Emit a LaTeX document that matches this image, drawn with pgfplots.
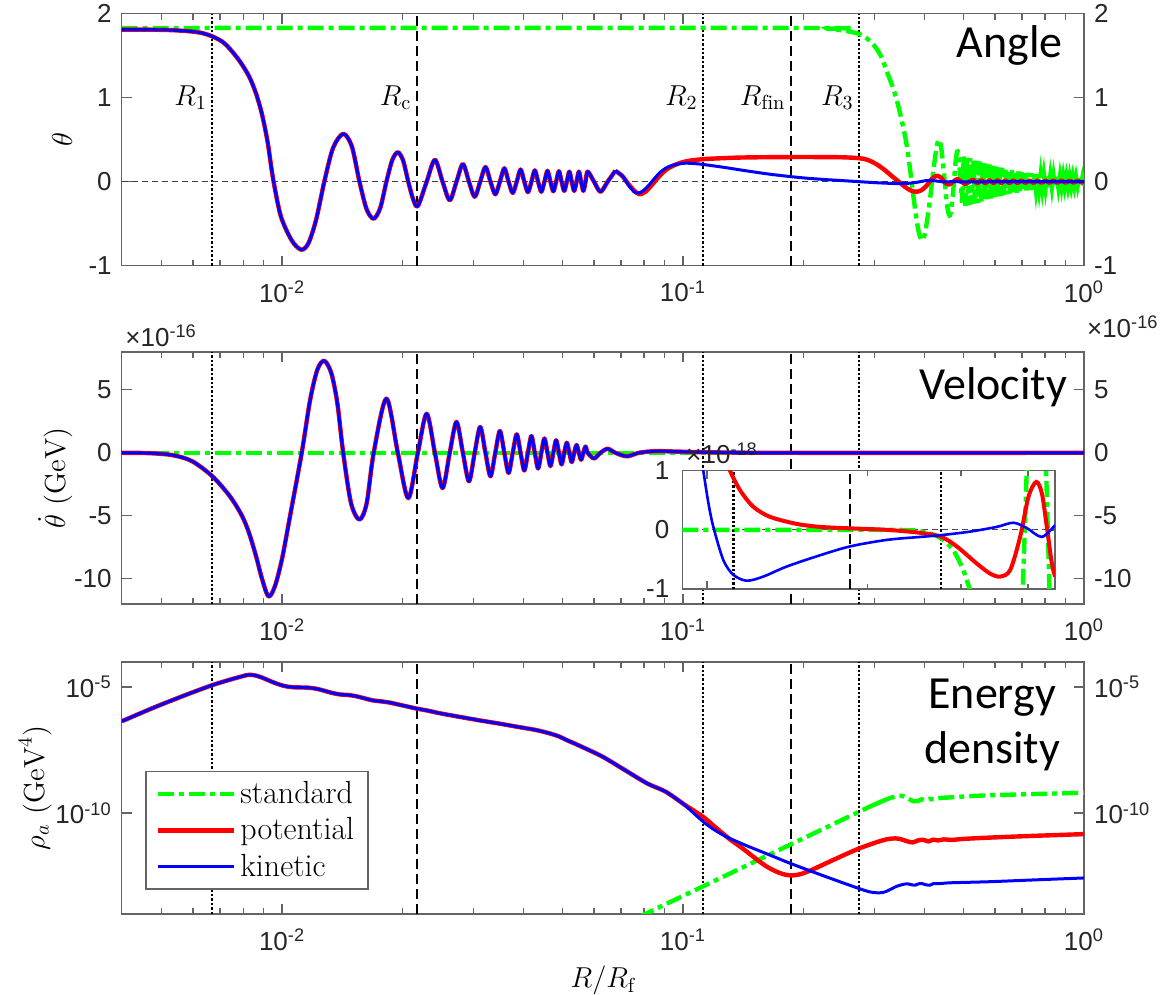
\documentclass[border=0pt]{standalone}
\usepackage{fontspec}
\usepackage{pgfplots}
\usepackage{pgfplotstable}
\pgfplotsset{compat=1.18}
\newfontfamily\ticksf{Liberation Sans}
\newfontfamily\calib{Carlito}
\definecolor{mgreen}{RGB}{0,255,0}
\definecolor{axgray}{RGB}{100,100,100}
\definecolor{txgray}{RGB}{38,38,38}

\tikzset{
  grn/.style={mgreen, line width=2.2pt, dash pattern=on 8pt off 2.5pt on 2.5pt off 2.5pt},
  rd/.style={red, line width=2.2pt, line join=round},
  bl/.style={blue, line width=1.5pt, line join=round},
  vdot/.style={black, line width=1.3pt, dash pattern=on 1.2pt off 1pt},
  vdash/.style={black, line width=1.1pt, dash pattern=on 5pt off 2.5pt},
}
\pgfplotsset{
  panel/.style={
    scale only axis, width=481.15pt, height=126pt, anchor=south west,
    xmin=-2.4, xmax=0,
    axis line style={axgray, line width=0.7pt},
    tick style={axgray, line width=0.7pt},
    tick align=inside, major tick length=5pt, minor tick length=3pt,
    xtick={-2,-1,0},
    xticklabels={10\textsuperscript{-2},10\textsuperscript{-1},10\textsuperscript{0}},
    minor xtick={-2.3010,-2.2218,-2.1549,-2.0969,-2.0458,-1.6990,-1.5229,-1.3979,-1.3010,-1.2218,-1.1549,-1.0969,-1.0458,-0.6990,-0.5229,-0.3979,-0.3010,-0.2218,-0.1549,-0.0969,-0.0458},
    tick label style={font=\ticksf\fontsize{13}{15}\selectfont, text=txgray},
    xticklabel style={yshift=-4pt},
    label style={font=\fontsize{14.5}{17}\selectfont},
  },
  rlabels/.style={panel, xtick=\empty, minor xtick={}, axis line style={draw=none},
    major tick length=0pt, minor tick length=0pt, yticklabel pos=right,
    yticklabel style={xshift=1.5pt}},
}
\newcommand{\vlines}[2]{%
  \addplot[vdot, forget plot] coordinates {(-2.1744,#1) (-2.1744,#2)};
  \addplot[vdash, forget plot] coordinates {(-1.664,#1) (-1.664,#2)};
  \addplot[vdot, forget plot] coordinates {(-0.950,#1) (-0.950,#2)};
  \addplot[vdash, forget plot] coordinates {(-0.731,#1) (-0.731,#2)};
  \addplot[vdot, forget plot] coordinates {(-0.561,#1) (-0.561,#2)};
}

% x is log10(R/R_f)
\pgfplotstableread[row sep=\\]{u th\\
-2.400 1.81\\ -2.340 1.81\\ -2.280 1.805\\ -2.230 1.79\\ -2.200 1.77\\ -2.1744 1.73\\
-2.150 1.67\\ -2.130 1.58\\ -2.105 1.43\\ -2.082 1.25\\ -2.065 1.05\\ -2.050 0.80\\
-2.036 0.47\\ -2.023 0.05\\ -2.005 -0.38\\ -1.987 -0.60\\ -1.970 -0.74\\ -1.951 -0.81\\
-1.934 -0.73\\ -1.915 -0.45\\ -1.8947 0.0\\ -1.873 0.40\\ -1.8476 0.57\\ -1.826 0.42\\
-1.807 0.0\\ -1.789 -0.33\\ -1.7715 -0.44\\ -1.755 -0.31\\ -1.7398 0.0\\ -1.725 0.26\\
-1.7113 0.35\\ -1.698 0.25\\ -1.6853 0.0\\ -1.673 -0.21\\ -1.6614 -0.29\\ -1.6394 0.0\\
-1.6189 0.26\\ -1.5998 0.0\\ -1.5819 -0.22\\ -1.5650 0.0\\ -1.5491 0.21\\ -1.5339 0.0\\
-1.5196 -0.18\\ -1.5059 0.0\\ -1.4928 0.175\\ -1.4803 0.0\\ -1.4683 -0.15\\ -1.4568 0.0\\
-1.4457 0.16\\ -1.4351 0.0\\ -1.4248 -0.135\\ -1.4148 0.0\\ -1.4052 0.145\\ -1.3959 0.0\\
-1.3869 -0.125\\ -1.3782 0.0\\ -1.3697 0.135\\ -1.3615 0.0\\ -1.3535 -0.12\\ -1.3457 0.0\\
-1.3381 0.13\\ -1.3307 0.0\\ -1.3235 -0.115\\ -1.3165 0.0\\ -1.3096 0.125\\ -1.3029 0.0\\
-1.2963 -0.11\\ -1.2899 0.0\\ -1.2836 0.12\\ -1.2775 0.0\\ -1.2715 -0.11\\ -1.2656 0.0\\
-1.2598 0.12\\ -1.2542 0.0\\ -1.2486 -0.11\\ -1.2432 0.0\\ -1.2378 0.12\\ -1.222 0.0\\
-1.206 -0.12\\ -1.188 0.0\\ -1.169 0.13\\
}\thcommon

\pgfplotstableread[row sep=\\]{u th\\
-1.169 0.13\\ -1.152 0.07\\ -1.136 -0.03\\ -1.121 -0.11\\ -1.108 -0.15\\ -1.094 -0.12\\
-1.078 -0.04\\ -1.060 0.06\\ -1.040 0.15\\ -1.015 0.21\\ -0.990 0.245\\ -0.950 0.268\\
-0.900 0.28\\ -0.850 0.288\\ -0.750 0.293\\ -0.650 0.293\\ -0.600 0.29\\ -0.561 0.28\\
-0.540 0.26\\ -0.520 0.215\\ -0.500 0.15\\ -0.480 0.07\\ -0.462 0.0\\ -0.447 -0.06\\
-0.432 -0.105\\ -0.418 -0.12\\ -0.405 -0.10\\ -0.393 -0.05\\ -0.380 0.03\\ -0.368 0.07\\
-0.357 0.05\\ -0.347 -0.01\\ -0.337 -0.035\\ -0.326 0.0\\ -0.316 0.03\\ -0.306 0.0\\
-0.296 -0.025\\ -0.286 0.0\\ -0.276 0.022\\ -0.266 -0.02\\ -0.256 0.02\\ -0.246 -0.019\\
-0.236 0.018\\ -0.226 -0.018\\ -0.216 0.017\\ -0.206 -0.017\\ -0.196 0.016\\ -0.186 -0.016\\
-0.176 0.015\\ -0.166 -0.015\\ -0.156 0.015\\ -0.146 -0.014\\ -0.136 0.014\\ -0.126 -0.014\\
-0.116 0.013\\ -0.106 -0.013\\ -0.096 0.013\\ -0.086 -0.012\\ -0.076 0.012\\ -0.066 -0.012\\
-0.056 0.012\\ -0.046 -0.011\\ -0.036 0.011\\ -0.026 -0.011\\ -0.016 0.01\\ -0.006 -0.01\\
0.000 0.0\\
}\thred

\pgfplotstableread[row sep=\\]{u th\\
-1.169 0.13\\ -1.150 0.06\\ -1.135 -0.05\\ -1.122 -0.12\\ -1.112 -0.135\\ -1.100 -0.11\\
-1.085 -0.04\\ -1.071 0.04\\ -1.055 0.12\\ -1.038 0.175\\ -1.018 0.205\\ -0.995 0.22\\
-0.970 0.215\\ -0.950 0.205\\ -0.900 0.172\\ -0.850 0.135\\ -0.793 0.095\\ -0.750 0.07\\
-0.700 0.045\\ -0.650 0.027\\ -0.600 0.012\\ -0.560 0.0\\ -0.515 -0.013\\ -0.470 -0.022\\
-0.440 -0.02\\ -0.415 -0.006\\ -0.395 0.012\\ -0.378 0.014\\ -0.362 0.004\\ -0.345 -0.004\\
-0.325 0.003\\ -0.300 -0.002\\ -0.200 0.0\\ 0.000 0.0\\
}\thblue

\pgfplotstableread[row sep=\\]{u th\\
-2.400 1.83\\ -0.700 1.83\\ -0.640 1.82\\ -0.600 1.80\\ -0.561 1.76\\ -0.540 1.70\\
-0.520 1.60\\ -0.505 1.48\\ -0.490 1.29\\ -0.475 1.10\\ -0.462 0.88\\ -0.450 0.63\\
-0.441 0.40\\ -0.432 0.08\\ -0.422 -0.30\\ -0.413 -0.58\\ -0.404 -0.70\\ -0.396 -0.60\\
-0.386 -0.28\\ -0.376 0.12\\ -0.368 0.40\\ -0.362 0.50\\ -0.356 0.40\\ -0.349 0.08\\
-0.341 -0.30\\ -0.334 -0.40\\ -0.327 -0.15\\ -0.320 0.25\\ -0.315 0.36\\ -0.310 0.15\\
-0.304 -0.25\\
}\thgreenA

\pgfplotstableread[row sep=\\]{u th\\
-0.304 -0.25\\ -0.300 0.30\\ -0.296 -0.29\\ -0.292 0.29\\ -0.288 -0.28\\ -0.284 0.28\\
-0.280 -0.27\\ -0.276 0.26\\ -0.272 -0.26\\ -0.268 0.25\\ -0.264 -0.25\\ -0.260 0.24\\
-0.256 -0.235\\ -0.252 0.225\\ -0.248 -0.22\\ -0.244 0.215\\ -0.240 -0.21\\ -0.236 0.205\\
-0.232 -0.20\\ -0.228 0.19\\ -0.224 -0.185\\ -0.220 0.18\\ -0.216 -0.175\\ -0.212 0.17\\
-0.208 -0.17\\ -0.204 0.165\\ -0.200 -0.16\\ -0.196 0.155\\ -0.192 -0.15\\ -0.188 0.145\\
-0.184 -0.14\\ -0.180 0.14\\ -0.176 -0.135\\ -0.172 0.13\\ -0.168 -0.13\\ -0.164 0.125\\
-0.160 -0.12\\ -0.156 0.115\\ -0.152 -0.115\\ -0.148 0.11\\ -0.144 -0.105\\ -0.140 0.105\\
-0.136 -0.10\\ -0.132 0.10\\ -0.128 -0.095\\ -0.124 0.095\\ -0.120 -0.09\\ -0.116 0.09\\
-0.112 -0.087\\ -0.108 0.085\\ -0.104 -0.083\\ -0.100 0.08\\ -0.096 -0.079\\ -0.092 0.078\\
-0.088 -0.076\\ -0.084 0.075\\ -0.080 -0.074\\ -0.076 0.072\\ -0.072 -0.071\\ -0.068 0.07\\
-0.064 -0.069\\ -0.060 0.067\\ -0.056 -0.066\\ -0.052 0.065\\ -0.048 -0.063\\ -0.044 0.062\\
-0.040 -0.061\\ -0.036 0.06\\ -0.032 -0.058\\ -0.028 0.057\\ -0.024 -0.056\\ -0.020 0.055\\
-0.016 -0.053\\ -0.012 0.052\\ -0.008 -0.051\\ -0.004 0.05\\ 0.000 -0.048\\
}\thgreenB

% velocity, units of 1e-16 GeV
\pgfplotstableread[row sep=\\]{u v\\
-2.400 0\\ -2.330 -0.03\\ -2.273 -0.19\\ -2.225 -0.66\\ -2.174 -1.86\\ -2.130 -3.46\\
-2.100 -5.0\\ -2.082 -6.4\\ -2.065 -8.2\\ -2.050 -10.0\\ -2.034 -11.4\\ -2.018 -10.6\\
-2.000 -8.4\\ -1.980 -5.0\\ -1.951 0\\ -1.930 4.2\\ -1.912 6.6\\ -1.8947 7.3\\
-1.877 6.3\\ -1.862 3.9\\ -1.8476 0\\ -1.828 -4.0\\ -1.807 -5.3\\ -1.789 -4.0\\
-1.7715 0\\ -1.7398 4.3\\ -1.7113 0\\ -1.6853 -3.6\\ -1.6614 0\\ -1.6394 3.1\\
-1.6189 0\\ -1.5998 -2.8\\ -1.5819 0\\ -1.5650 2.45\\ -1.5491 0\\ -1.5339 -2.26\\
-1.5196 0\\ -1.5059 2.05\\ -1.4928 0\\ -1.4803 -1.86\\ -1.4683 0\\ -1.4568 1.73\\
-1.4457 0\\ -1.4351 -1.6\\ -1.4248 0\\ -1.4148 1.46\\ -1.4052 0\\ -1.3959 -1.4\\
-1.3869 0\\ -1.3782 1.33\\ -1.3697 0\\ -1.3615 -1.25\\ -1.3535 0\\ -1.3457 1.14\\
-1.3381 0\\ -1.3307 -1.06\\ -1.3235 0\\ -1.3165 1.0\\ -1.3096 0\\ -1.3029 -0.93\\
-1.2963 0\\ -1.2899 0.8\\ -1.2836 0\\ -1.2775 -0.74\\ -1.2715 0\\ -1.2656 0.62\\
-1.2598 0\\ -1.2542 -0.55\\ -1.2486 0\\ -1.2432 0.5\\ -1.2378 0\\ -1.222 -0.45\\
-1.206 0\\ -1.188 0.32\\ -1.169 0\\ -1.140 -0.28\\ -1.110 0\\ -1.070 0.13\\
-1.020 0.1\\ -0.960 0.05\\ -0.880 0.02\\ -0.750 0.0\\ 0.000 0.0\\
}\vel

% inset, units of 1e-18 GeV
\pgfplotstableread[row sep=\\]{u v\\
-1.046 0\\ -0.640 0\\ -0.610 -0.01\\ -0.590 -0.04\\ -0.575 -0.08\\ -0.561 -0.14\\
-0.549 -0.23\\ -0.5376 -0.34\\ -0.528 -0.50\\ -0.5188 -0.68\\ -0.5062 -1.02\\ -0.490 -1.6\\
-0.480 -3\\ -0.430 -3\\ -0.4074 -1.0\\ -0.4000 1.0\\ -0.390 3\\ -0.370 3\\
-0.3636 1.0\\ -0.3574 -1.0\\ -0.350 -3\\
}\insgreen
\pgfplotstableread[row sep=\\]{u v\\
-0.965 1.25\\ -0.9565 1.0\\ -0.9377 0.67\\ -0.9128 0.39\\ -0.8815 0.22\\ -0.8314 0.10\\
-0.7877 0.05\\ -0.7308 0.025\\ -0.6625 0.0\\ -0.600 -0.05\\ -0.5612 -0.115\\ -0.5312 -0.28\\
-0.4937 -0.57\\ -0.4686 -0.74\\ -0.4499 -0.79\\ -0.4311 -0.68\\ -0.4124 -0.12\\ -0.3967 0.56\\
-0.3822 0.81\\ -0.3717 0.62\\ -0.3623 0.05\\ -0.3529 -0.57\\ -0.3467 -0.79\\
}\insred
\pgfplotstableread[row sep=\\]{u v\\
-1.012 1.35\\ -1.0066 1.0\\ -0.997 0.45\\ -0.9878 0.05\\ -0.9691 -0.51\\ -0.9503 -0.76\\
-0.9252 -0.86\\ -0.894 -0.79\\ -0.8501 -0.62\\ -0.7877 -0.43\\ -0.7313 -0.28\\ -0.6625 -0.17\\
-0.600 -0.12\\ -0.5612 -0.09\\ -0.5062 -0.03\\ -0.4561 0.05\\ -0.425 0.12\\ -0.3998 0.03\\
-0.3717 -0.12\\ -0.3467 0.08\\
}\insblue

% energy density, log10 of GeV^4
\pgfplotstableread[row sep=\\]{u r\\
-2.3995 -6.35\\ -2.320 -5.81\\ -2.244 -5.33\\ -2.1744 -4.92\\ -2.1295 -4.70\\ -2.100 -4.57\\
-2.0837 -4.51\\ -2.068 -4.53\\ -2.0532 -4.60\\ -2.035 -4.72\\ -2.0151 -4.85\\ -1.995 -4.95\\
-1.975 -5.00\\ -1.955 -5.01\\ -1.935 -5.02\\ -1.915 -5.06\\ -1.895 -5.14\\ -1.875 -5.23\\
-1.855 -5.29\\ -1.835 -5.31\\ -1.815 -5.36\\ -1.795 -5.44\\ -1.775 -5.52\\ -1.755 -5.56\\
-1.735 -5.60\\ -1.715 -5.67\\ -1.695 -5.74\\ -1.664 -5.85\\ -1.640 -5.92\\ -1.605 -6.04\\
-1.560 -6.17\\ -1.510 -6.31\\ -1.460 -6.44\\ -1.414 -6.57\\ -1.370 -6.69\\ -1.338 -6.81\\
-1.310 -6.95\\ -1.290 -7.10\\ -1.256 -7.34\\ -1.2006 -7.76\\ -1.145 -8.29\\ -1.0894 -8.82\\
-1.043 -9.15\\ -0.9968 -9.66\\
}\rhocommon
\pgfplotstableread[row sep=\\]{u r\\
-0.9968 -9.66\\ -0.9495 -10.15\\ -0.920 -10.55\\ -0.886 -11.0\\ -0.860 -11.3\\ -0.839 -11.55\\
-0.815 -11.85\\ -0.793 -12.1\\ -0.770 -12.3\\ -0.750 -12.42\\ -0.731 -12.47\\ -0.710 -12.43\\
-0.691 -12.33\\ -0.665 -12.15\\ -0.645 -12.0\\ -0.608 -11.73\\ -0.561 -11.40\\ -0.515 -11.14\\
-0.490 -11.03\\ -0.470 -11.0\\ -0.455 -11.04\\ -0.440 -11.12\\ -0.427 -11.16\\ -0.412 -11.07\\
-0.400 -11.06\\ -0.388 -11.12\\ -0.376 -11.05\\ -0.364 -11.08\\ -0.350 -11.04\\ -0.330 -11.06\\
-0.300 -11.02\\ -0.237 -10.97\\ -0.144 -10.91\\ 0.000 -10.83\\
}\rhored
\pgfplotstableread[row sep=\\]{u r\\
-0.9968 -9.66\\ -0.9495 -10.34\\ -0.920 -10.68\\ -0.886 -10.98\\ -0.840 -11.3\\ -0.793 -11.6\\
-0.731 -12.0\\ -0.654 -12.46\\ -0.600 -12.77\\ -0.561 -12.99\\ -0.535 -13.12\\ -0.515 -13.16\\
-0.500 -13.14\\ -0.487 -13.06\\ -0.470 -12.92\\ -0.459 -12.86\\ -0.450 -12.82\\ -0.441 -12.80\\
-0.430 -12.84\\ -0.422 -12.86\\ -0.412 -12.80\\ -0.404 -12.79\\ -0.395 -12.84\\ -0.385 -12.86\\
-0.375 -12.79\\ -0.367 -12.80\\ -0.350 -12.78\\ -0.330 -12.76\\ -0.237 -12.72\\ -0.144 -12.66\\
0.000 -12.57\\
}\rhoblue
\pgfplotstableread[row sep=\\]{u r\\
-1.110 -14.12\\ -0.550 -9.86\\ -0.520 -9.65\\ -0.500 -9.50\\ -0.480 -9.38\\ -0.465 -9.32\\
-0.455 -9.31\\ -0.445 -9.36\\ -0.435 -9.45\\ -0.425 -9.53\\ -0.415 -9.52\\ -0.405 -9.45\\
-0.395 -9.48\\ -0.385 -9.43\\ -0.375 -9.46\\ -0.360 -9.40\\ -0.330 -9.37\\ -0.237 -9.29\\
0.000 -9.19\\
}\rhogreen

\begin{document}
\begin{tikzpicture}
\path[use as bounding box] (0,0) rectangle (581.5pt,497.5pt);

% ---------- angle ----------
\begin{axis}[panel, name=p1, at={(60.85pt,364.65pt)},
  ymin=-1, ymax=2, ytick={-1,0,1,2}, yticklabels={-1,0,1,2},
  yticklabel style={xshift=-1.5pt},
  ylabel={$\theta$}, ylabel style={at={(axis description cs:-0.062,0.5)}, anchor=center}]
\vlines{-1}{2}
\addplot[black!75, line width=0.6pt, dash pattern=on 3pt off 2pt] coordinates {(-2.4,0) (0,0)};
\addplot[grn, smooth] table {\thgreenA};
\addplot[grn] table {\thgreenB};
\addplot[rd, smooth] table {\thcommon};
\addplot[rd, smooth] table {\thred};
\addplot[bl, smooth] table {\thcommon};
\addplot[bl, smooth] table {\thblue};
\begin{scope}[every node/.style={font=\fontsize{14.5}{17}\selectfont, inner sep=0pt, anchor=base east, xshift=-2.5pt}]
\node at (axis cs:-2.1744,0.908) {$R_1$};
\node at (axis cs:-1.664,0.908) {$R_\mathrm{c}$};
\node at (axis cs:-0.950,0.908) {$R_2$};
\node at (axis cs:-0.731,0.908) {$R_\mathrm{fin}$};
\node at (axis cs:-0.561,0.908) {$R_3$};
\end{scope}
\node[font=\calib\fontsize{23}{27}\selectfont, anchor=base east, inner sep=0pt] at (axis cs:-0.052,1.483) {Angle};
\end{axis}
\begin{axis}[rlabels, at={(60.85pt,364.65pt)}, ymin=-1, ymax=2, ytick={-1,0,1,2}, yticklabels={-1,0,1,2}]
\end{axis}

% ---------- velocity ----------
\begin{axis}[panel, name=p2, at={(60.85pt,195.5pt)},
  ymin=-12, ymax=8, ytick={-10,-5,0,5}, yticklabels={-10,-5,0,5},
  yticklabel style={xshift=-1.5pt},
  ylabel={$\dot\theta\ (\mathrm{GeV})$}, ylabel style={at={(axis description cs:-0.069,0.5)}, anchor=center}]
\vlines{-12}{8}
\addplot[grn] coordinates {(-2.4,0) (0,0)};
\addplot[rd, smooth] table {\vel};
\addplot[bl, smooth] table {\vel};
\node[font=\calib\fontsize{23}{27}\selectfont, anchor=base east, inner sep=0pt] at (axis cs:-0.041,4.25) {Velocity};
\end{axis}
\begin{axis}[rlabels, at={(60.85pt,195.5pt)}, ymin=-12, ymax=8, ytick={-10,-5,0,5}, yticklabels={-10,-5,0,5}]
\end{axis}

% ---------- inset ----------
\begin{axis}[name=ins, scale only axis, width=186.35pt, height=59.15pt, anchor=south west, at={(341.15pt,203pt)},
  xmin=-1.046, xmax=-0.347, ymin=-1, ymax=1,
  axis background/.style={fill=white},
  axis line style={axgray, line width=0.7pt}, tick style={axgray, line width=0.7pt},
  tick align=inside, major tick length=4pt, minor tick length=2.5pt,
  xtick={-1}, xticklabels={}, minor xtick={-0.699,-0.523,-0.398},
  ytick={-1,0,1}, yticklabels={-1,0,1},
  tick label style={font=\ticksf\fontsize{13}{15}\selectfont, text=txgray},
  yticklabel style={xshift=-3pt}]
\addplot[vdot] coordinates {(-0.950,-1) (-0.950,1)};
\addplot[vdash] coordinates {(-0.731,-1) (-0.731,1)};
\addplot[vdot] coordinates {(-0.561,-1) (-0.561,1)};
\addplot[black!70, line width=0.6pt, dash pattern=on 3pt off 2pt] coordinates {(-1.046,0) (-0.347,0)};
\addplot[grn] table {\insgreen};
\addplot[red, line width=2pt, smooth] table {\insred};
\addplot[blue, line width=1.3pt, smooth] table {\insblue};
\end{axis}

% ---------- energy density ----------
\begin{axis}[panel, name=p3, at={(60.85pt,40.5pt)},
  ymin=-14, ymax=-4, ytick={-10,-5}, yticklabels={10\textsuperscript{-10},10\textsuperscript{-5}},
  yticklabel style={xshift=-1.5pt},
  ylabel={$\rho_a\ (\mathrm{GeV}^4)$}, ylabel style={at={(axis description cs:-0.090,0.5)}, anchor=center},
  xlabel={$R/R_\mathrm{f}$}, xlabel style={at={(axis description cs:0.5,0)}, anchor=base, yshift=-37pt},
  legend style={at={(0.0246,0.568)}, anchor=north west, draw=axgray, line width=0.7pt,
    font=\fontsize{16}{18}\selectfont, inner xsep=5pt, inner ysep=3pt, row sep=1.5pt},
  legend cell align=left,
  legend image code/.code={\draw[#1] (0pt,0pt) -- (38pt,0pt);}]
\vlines{-14}{-4}
\addplot[grn, smooth] table {\rhogreen};
\addlegendentry{standard}
\addplot[rd, smooth] table {\rhocommon};
\addlegendentry{potential}
\addplot[bl, smooth] table {\rhocommon};
\addlegendentry{kinetic}
\addplot[rd, smooth, forget plot] table {\rhored};
\addplot[bl, smooth, forget plot] table {\rhoblue};
\node[font=\calib\fontsize{23}{27}\selectfont, anchor=base, inner sep=0pt] at (axis cs:-0.229,-5.845) {Energy};
\node[font=\calib\fontsize{23}{27}\selectfont, anchor=base, inner sep=0pt] at (axis cs:-0.229,-8.03) {density};
\end{axis}
\begin{axis}[rlabels, at={(60.85pt,40.5pt)}, ymin=-14, ymax=-4, ytick={-10,-5}, yticklabels={10\textsuperscript{-10},10\textsuperscript{-5}}]
\end{axis}

% exponent labels
\begin{scope}[every node/.style={font=\ticksf\fontsize{13}{15}\selectfont, text=txgray, anchor=base west, inner sep=0pt}]
\node at ([xshift=1.65pt,yshift=2.7pt]p2.north west) {×10\textsuperscript{-16}};
\node at ([xshift=1.35pt,yshift=7.2pt]p2.north east) {×10\textsuperscript{-16}};
\node at ([xshift=1.85pt,yshift=3.35pt]ins.north west) {×10\textsuperscript{-18}};
\end{scope}
\end{tikzpicture}
\end{document}
